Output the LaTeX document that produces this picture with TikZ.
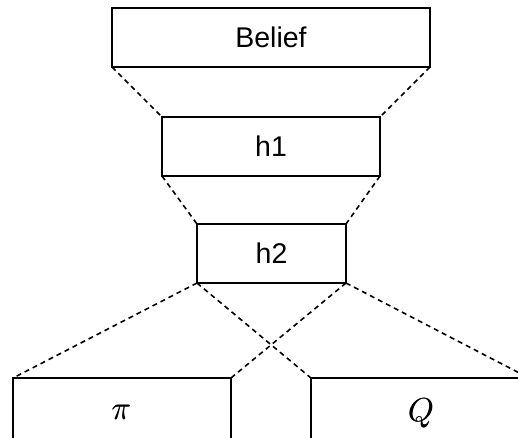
\documentclass[tikz,border=0pt]{standalone}
\usepackage{fontspec}
\usepackage{graphicx}
\setmainfont{Liberation Sans}
% math label, slightly emboldened by overprinting
\newcommand{\bigmath}[1]{\scalebox{1.6}{\fontsize{20.74}{25}\selectfont
  \makebox[0pt][l]{$#1$}\hspace{0.3pt}$#1$}}
\begin{document}
\begin{tikzpicture}[x=1pt,y=-1pt,
  layer/.style={draw, line width=1.8pt, outer sep=0pt, inner sep=0pt,
    minimum width=#1, minimum height=59pt, font=\fontsize{28.5}{32}\selectfont},
  link/.style={line width=1.6pt, dash pattern=on 5pt off 4pt},
  mathlbl/.style={inner sep=0pt}]
\useasboundingbox (0,0) rectangle (518,437);
\clip (0,0) rectangle (518,437);
% stacked layers
\node[layer=318pt] (belief) at (271,37.5) {Belief};
\node[layer=218pt] (h1) at (271,146.5) {h1};
\node[layer=149pt] (h2) at (271.5,253.5) {h2};
% output heads (partly below the frame)
\node[layer=218pt, minimum height=61pt] (pi) at (122,408.5) {};
\node[layer=218pt, minimum height=61pt] (q) at (420,408.5) {};
\node[mathlbl] (pilbl) at (121.5,412) {\bigmath{\pi}};
\node[mathlbl] (qlbl) at (421,413) {\bigmath{Q}};
% connections between layer corners
\draw[link] (belief.south west) -- (h1.north west);
\draw[link] (belief.south east) -- (h1.north east);
\draw[link] (h1.south west) -- (h2.north west);
\draw[link] (h1.south east) -- (h2.north east);
\draw[link] (h2.south west) -- (pi.north west);
\draw[link] (h2.south west) -- (q.north west);
\draw[link] (h2.south east) -- (pi.north east);
\draw[link] (h2.south east) -- (q.north east);
\end{tikzpicture}
\end{document}
